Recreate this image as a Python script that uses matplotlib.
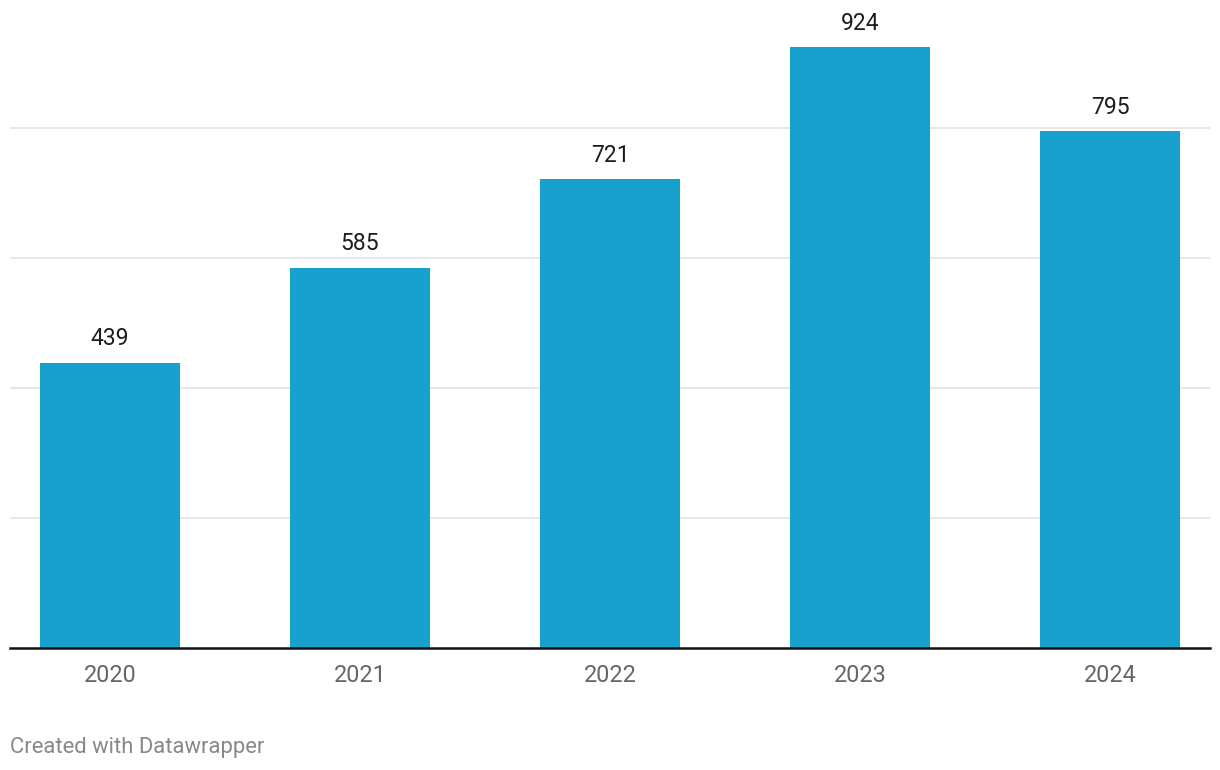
import matplotlib
matplotlib.use("Agg")
import matplotlib.pyplot as plt

years = ["2020", "2021", "2022", "2023", "2024"]
values = [439, 585, 721, 924, 795]
grid_values = [200, 400, 600, 800]

plt.rcParams['font.family'] = ['Roboto', 'DejaVu Sans']

fig = plt.figure(figsize=(12.2, 7.7), dpi=100)
ax = fig.add_axes([10/1220, 122/770, 1200/1220, 648/770])
x = list(range(len(years)))
ax.bar(x, values, width=0.56, color="#18a1cd", zorder=2)
for g in grid_values:
    ax.axhline(g, color="#e3e3e3", lw=1.2, zorder=1)
for xi, v in zip(x, values):
    ax.annotate(f"{v}", (xi, v), xytext=(0, 9), textcoords="offset points",
                ha="center", va="bottom", fontsize=16.5, color="#1d1d1d")
ax.set_xlim(-0.4, 4.4)
ax.set_ylim(0, 997)
ax.set_xticks(x)
ax.set_xticklabels(years, fontsize=16.8, color="#666666")
ax.tick_params(axis="x", length=0, pad=11.5)
ax.set_yticks([])
for s in ["top", "right", "left"]:
    ax.spines[s].set_visible(False)
ax.spines["bottom"].set_color("#111111")
ax.spines["bottom"].set_linewidth(1.8)
ax.spines["bottom"].set_zorder(3)
fig.text(10/1220, 1 - 748/770, "Created with Datawrapper", fontsize=15.8,
         color="#888888", ha="left", va="center")
fig.savefig("out.png", dpi=100)
